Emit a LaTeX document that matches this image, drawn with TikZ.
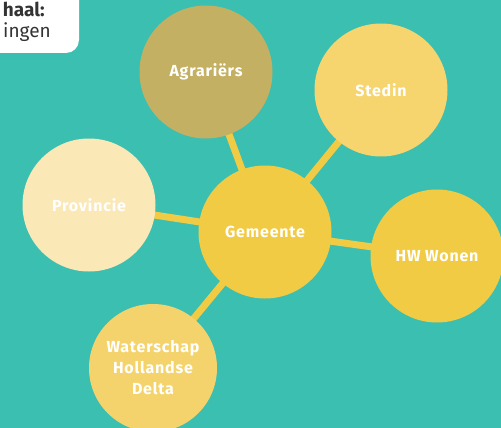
\documentclass[tikz,border=0pt]{standalone}
\usepackage{fontspec}
\setmainfont{Fira Sans}
\definecolor{teal}{HTML}{3ABFB1}
\definecolor{agr}{HTML}{C4B062}
\definecolor{sted}{HTML}{F6D46E}
\definecolor{gem}{HTML}{F2CB45}
\definecolor{prov}{HTML}{FBE8B7}
\definecolor{wat}{HTML}{F5D36C}
\definecolor{boxtext}{HTML}{333333}
\begin{document}
\begin{tikzpicture}[x=1pt,y=-1pt,
  bubble/.style={circle,minimum size=133pt,inner sep=0pt,text=white,
    font=\fontsize{16}{21}\selectfont\bfseries\addfontfeature{LetterSpace=5},align=center},
  link/.style={gem,line width=7pt}]
\useasboundingbox (0,0) rectangle (501,428);
\clip (0,0) rectangle (501,428);
\fill[teal] (0,0) rectangle (501,428);
% white box top left
\fill[white,rounded corners=13pt] (-30,-30) rectangle (79,53);
\node[anchor=base east,inner sep=0pt,text=boxtext,font=\fontsize{19}{21}\selectfont\bfseries] (t1) at (45,17) {haal:};
\node[anchor=base east,inner sep=0pt,text=boxtext,font=\fontsize{19}{21}\selectfont] (t2) at (51,38) {ingen};
% coordinates of centres
\coordinate (cg) at (265,232);
\coordinate (ca) at (206,72);
\coordinate (cs) at (381,90);
\coordinate (cp) at (89,205);
\coordinate (ch) at (437,256);
\coordinate (cw) at (153,368);
% links
\draw[link] (cg) -- (ca);
\draw[link] (cg) -- (cs);
\draw[link] (cg) -- (cp);
\draw[link] (cg) -- (ch);
\draw[link] (cg) -- (cw);
% bubbles
\node[bubble,fill=gem] (g) at (cg) {Gemeente};
\node[bubble,fill=agr] (a) at (ca) {Agrariërs};
\node[bubble,fill=sted] (s) at (cs) {Stedin};
\node[bubble,fill=prov] (p) at (cp) {Provincie};
\node[bubble,fill=gem] (h) at (ch) {HW Wonen};
\node[bubble,fill=wat,minimum size=128pt] (w) at (cw) {Waterschap\\Hollandse\\Delta};
\end{tikzpicture}
\end{document}
